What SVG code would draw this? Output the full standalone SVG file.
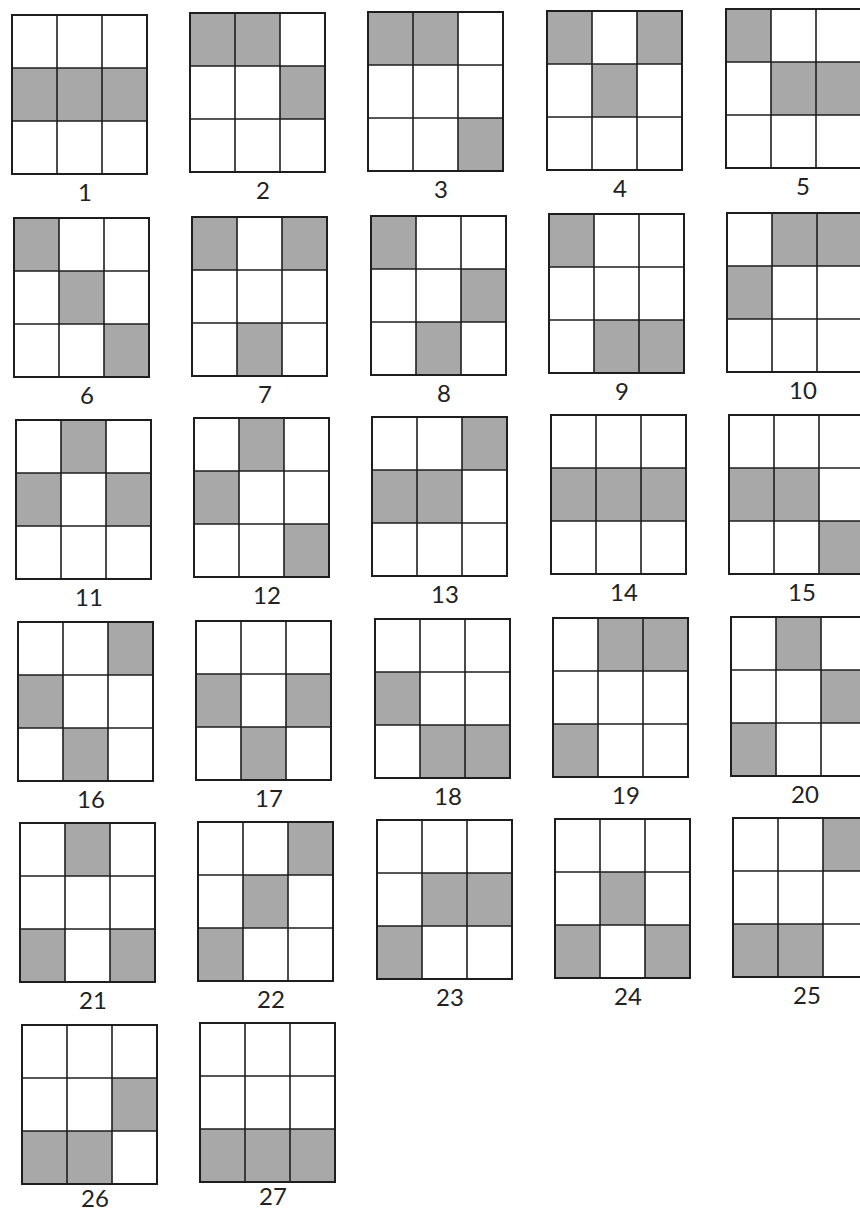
<svg xmlns="http://www.w3.org/2000/svg" xmlns:xlink="http://www.w3.org/1999/xlink" width="860" height="1213" viewBox="0 0 860 1213">
<defs>
<style>
.s{fill:#a8a8a8}
.b{fill:none;stroke:#1e1e1e;stroke-width:2}
.l{stroke:#1e1e1e;stroke-width:1.6}
.t{font-family:Lato,"Open Sans","Liberation Sans",sans-serif;font-size:24px;fill:#222;text-anchor:middle}
</style>
<g id="grid">
<line class="l" x1="45" y1="0" x2="45" y2="159"/>
<line class="l" x1="90" y1="0" x2="90" y2="159"/>
<line class="l" x1="0" y1="53" x2="135" y2="53"/>
<line class="l" x1="0" y1="106" x2="135" y2="106"/>
<rect class="b" x="0" y="0" width="135" height="159"/>
</g>
</defs>
<rect width="860" height="1213" fill="#fff"/>

<g id="f1" transform="translate(12,15)"><rect class="s" x="0" y="53" width="45" height="53"/><rect class="s" x="45" y="53" width="45" height="53"/><rect class="s" x="90" y="53" width="45" height="53"/><use xlink:href="#grid"/><text class="t" x="73" y="186">1</text></g>
<g id="f2" transform="translate(190,13)"><rect class="s" x="0" y="0" width="45" height="53"/><rect class="s" x="45" y="0" width="45" height="53"/><rect class="s" x="90" y="53" width="45" height="53"/><use xlink:href="#grid"/><text class="t" x="73" y="186">2</text></g>
<g id="f3" transform="translate(368,12)"><rect class="s" x="0" y="0" width="45" height="53"/><rect class="s" x="45" y="0" width="45" height="53"/><rect class="s" x="90" y="106" width="45" height="53"/><use xlink:href="#grid"/><text class="t" x="73" y="186">3</text></g>
<g id="f4" transform="translate(547,11)"><rect class="s" x="0" y="0" width="45" height="53"/><rect class="s" x="90" y="0" width="45" height="53"/><rect class="s" x="45" y="53" width="45" height="53"/><use xlink:href="#grid"/><text class="t" x="73" y="186">4</text></g>
<g id="f5" transform="translate(726,9)"><rect class="s" x="0" y="0" width="45" height="53"/><rect class="s" x="45" y="53" width="45" height="53"/><rect class="s" x="90" y="53" width="45" height="53"/><use xlink:href="#grid"/><text class="t" x="77" y="186">5</text></g>

<g id="f6" transform="translate(14,218)"><rect class="s" x="0" y="0" width="45" height="53"/><rect class="s" x="45" y="53" width="45" height="53"/><rect class="s" x="90" y="106" width="45" height="53"/><use xlink:href="#grid"/><text class="t" x="73" y="186">6</text></g>
<g id="f7" transform="translate(192,217)"><rect class="s" x="0" y="0" width="45" height="53"/><rect class="s" x="90" y="0" width="45" height="53"/><rect class="s" x="45" y="106" width="45" height="53"/><use xlink:href="#grid"/><text class="t" x="73" y="186">7</text></g>
<g id="f8" transform="translate(371,216)"><rect class="s" x="0" y="0" width="45" height="53"/><rect class="s" x="90" y="53" width="45" height="53"/><rect class="s" x="45" y="106" width="45" height="53"/><use xlink:href="#grid"/><text class="t" x="73" y="186">8</text></g>
<g id="f9" transform="translate(549,214)"><rect class="s" x="0" y="0" width="45" height="53"/><rect class="s" x="45" y="106" width="45" height="53"/><rect class="s" x="90" y="106" width="45" height="53"/><use xlink:href="#grid"/><text class="t" x="73" y="186">9</text></g>
<g id="f10" transform="translate(727,213)"><rect class="s" x="45" y="0" width="45" height="53"/><rect class="s" x="90" y="0" width="45" height="53"/><rect class="s" x="0" y="53" width="45" height="53"/><use xlink:href="#grid"/><text class="t" x="76" y="186">10</text></g>

<g id="f11" transform="translate(16,420)"><rect class="s" x="45" y="0" width="45" height="53"/><rect class="s" x="0" y="53" width="45" height="53"/><rect class="s" x="90" y="53" width="45" height="53"/><use xlink:href="#grid"/><text class="t" x="73" y="186">11</text></g>
<g id="f12" transform="translate(194,418)"><rect class="s" x="45" y="0" width="45" height="53"/><rect class="s" x="0" y="53" width="45" height="53"/><rect class="s" x="90" y="106" width="45" height="53"/><use xlink:href="#grid"/><text class="t" x="73" y="186">12</text></g>
<g id="f13" transform="translate(372,417)"><rect class="s" x="90" y="0" width="45" height="53"/><rect class="s" x="0" y="53" width="45" height="53"/><rect class="s" x="45" y="53" width="45" height="53"/><use xlink:href="#grid"/><text class="t" x="73" y="186">13</text></g>
<g id="f14" transform="translate(551,415)"><rect class="s" x="0" y="53" width="45" height="53"/><rect class="s" x="45" y="53" width="45" height="53"/><rect class="s" x="90" y="53" width="45" height="53"/><use xlink:href="#grid"/><text class="t" x="73" y="186">14</text></g>
<g id="f15" transform="translate(729,415)"><rect class="s" x="0" y="53" width="45" height="53"/><rect class="s" x="45" y="53" width="45" height="53"/><rect class="s" x="90" y="106" width="45" height="53"/><use xlink:href="#grid"/><text class="t" x="73" y="186">15</text></g>

<g id="f16" transform="translate(18,622)"><rect class="s" x="90" y="0" width="45" height="53"/><rect class="s" x="0" y="53" width="45" height="53"/><rect class="s" x="45" y="106" width="45" height="53"/><use xlink:href="#grid"/><text class="t" x="73" y="186">16</text></g>
<g id="f17" transform="translate(196,621)"><rect class="s" x="0" y="53" width="45" height="53"/><rect class="s" x="90" y="53" width="45" height="53"/><rect class="s" x="45" y="106" width="45" height="53"/><use xlink:href="#grid"/><text class="t" x="73" y="186">17</text></g>
<g id="f18" transform="translate(375,619)"><rect class="s" x="0" y="53" width="45" height="53"/><rect class="s" x="45" y="106" width="45" height="53"/><rect class="s" x="90" y="106" width="45" height="53"/><use xlink:href="#grid"/><text class="t" x="73" y="186">18</text></g>
<g id="f19" transform="translate(553,618)"><rect class="s" x="45" y="0" width="45" height="53"/><rect class="s" x="90" y="0" width="45" height="53"/><rect class="s" x="0" y="106" width="45" height="53"/><use xlink:href="#grid"/><text class="t" x="73" y="186">19</text></g>
<g id="f20" transform="translate(731,617)"><rect class="s" x="45" y="0" width="45" height="53"/><rect class="s" x="90" y="53" width="45" height="53"/><rect class="s" x="0" y="106" width="45" height="53"/><use xlink:href="#grid"/><text class="t" x="74" y="186">20</text></g>

<g id="f21" transform="translate(20,823)"><rect class="s" x="45" y="0" width="45" height="53"/><rect class="s" x="0" y="106" width="45" height="53"/><rect class="s" x="90" y="106" width="45" height="53"/><use xlink:href="#grid"/><text class="t" x="73" y="186">21</text></g>
<g id="f22" transform="translate(198,822)"><rect class="s" x="90" y="0" width="45" height="53"/><rect class="s" x="45" y="53" width="45" height="53"/><rect class="s" x="0" y="106" width="45" height="53"/><use xlink:href="#grid"/><text class="t" x="73" y="186">22</text></g>
<g id="f23" transform="translate(377,820)"><rect class="s" x="45" y="53" width="45" height="53"/><rect class="s" x="90" y="53" width="45" height="53"/><rect class="s" x="0" y="106" width="45" height="53"/><use xlink:href="#grid"/><text class="t" x="73" y="186">23</text></g>
<g id="f24" transform="translate(555,819)"><rect class="s" x="45" y="53" width="45" height="53"/><rect class="s" x="0" y="106" width="45" height="53"/><rect class="s" x="90" y="106" width="45" height="53"/><use xlink:href="#grid"/><text class="t" x="73" y="186">24</text></g>
<g id="f25" transform="translate(733,818)"><rect class="s" x="90" y="0" width="45" height="53"/><rect class="s" x="0" y="106" width="45" height="53"/><rect class="s" x="45" y="106" width="45" height="53"/><use xlink:href="#grid"/><text class="t" x="74" y="186">25</text></g>

<g id="f26" transform="translate(22,1025)"><rect class="s" x="90" y="53" width="45" height="53"/><rect class="s" x="0" y="106" width="45" height="53"/><rect class="s" x="45" y="106" width="45" height="53"/><use xlink:href="#grid"/><text class="t" x="73" y="182">26</text></g>
<g id="f27" transform="translate(200,1023)"><rect class="s" x="0" y="106" width="45" height="53"/><rect class="s" x="45" y="106" width="45" height="53"/><rect class="s" x="90" y="106" width="45" height="53"/><use xlink:href="#grid"/><text class="t" x="73" y="182">27</text></g>
</svg>
